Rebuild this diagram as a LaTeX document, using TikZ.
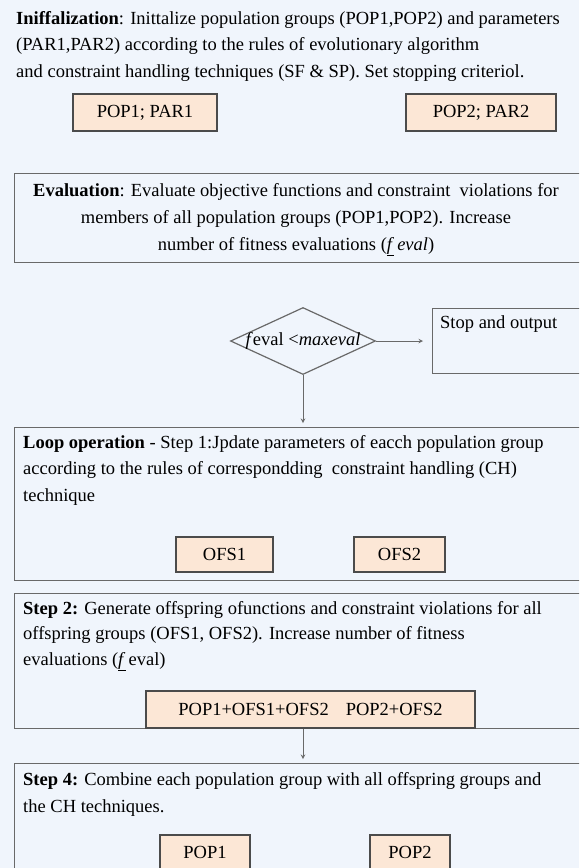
\documentclass[tikz,border=0pt]{standalone}
\usepackage{fontspec}
\setmainfont{Liberation Serif}
\usepackage{xcolor}
\usetikzlibrary{shapes.geometric}
\definecolor{bgblue}{RGB}{240,245,252}
\definecolor{peach}{RGB}{252,231,214}
\definecolor{framegray}{RGB}{105,105,105}
\definecolor{boxgray}{RGB}{75,75,75}
\begin{document}
\begin{tikzpicture}[x=1pt,y=-1pt,>=stealth,
  bigbox/.style={draw=framegray,line width=1.4pt,anchor=north west,inner sep=0pt},
  smallbox/.style={draw=boxgray,line width=1.2pt,fill=peach,inner sep=0pt,font=\fontsize{18.5}{20}\selectfont},
  txt/.style={font=\fontsize{18.5}{26.5}\selectfont,inner sep=0pt,align=left,anchor=north west},
  decision/.style={diamond,draw=framegray,line width=1.2pt,minimum width=145pt,minimum height=67pt,inner sep=0pt},
  flow/.style={->,draw=framegray,line width=1pt}]
  \useasboundingbox (0,0) rectangle (579,868);
  \fill[bgblue] (0,0) rectangle (579,868);
  \clip (0,0) rectangle (579,868);

  % initialization
  \node[txt] (inittxt) at (16,11) {\textbf{Iniffalization}: Inittalize population groups (POP1,POP2) and parameters\\
    (PAR1,PAR2) according to the rules of evolutionary algorithm\\
    and constraint handling techniques (SF \& SP). Set stopping criteriol.};
  \node[smallbox,minimum width=144pt,minimum height=37pt] (pop1par) at (145,112.5) {POP1; PAR1};
  \node[smallbox,minimum width=150pt,minimum height=37pt] (pop2par) at (481,112.5) {POP2; PAR2};

  % evaluation
  \node[bigbox,minimum width=600pt,minimum height=89pt] (evalbox) at (14,173) {};
  \node[txt,align=center,anchor=north,font=\fontsize{18.5}{27}\selectfont] (evaltxt) at (296,183) {\textbf{Evaluation}: Evaluate objective functions and constraint\ \ violations for\\
    members of all population groups (POP1,POP2). Increase\\
    number of fitness evaluations (\underline{\textit{f}}\,\textit{eval})};

  % stopping test
  \node[decision] (dec) at (303,341) {};
  \node[inner sep=0pt,font=\fontsize{18.5}{20}\selectfont] (dectxt) at (dec) {\textit{f}eval <\textit{maxeval}};
  \node[bigbox,minimum width=200pt,minimum height=65pt] (stopbox) at (432,308) {};
  \node[txt] (stoptxt) at (440,315) {Stop and output};
  \draw[flow,shorten >=9pt] (dec.east) -- (dec.east -| stopbox.west);

  % loop operation
  \node[bigbox,minimum width=600pt,minimum height=153pt] (loopbox) at (14,427) {};
  \draw[flow,shorten >=4pt] (dec.south) -- (dec.south |- loopbox.north);
  \node[txt] (looptxt) at (23,435) {\textbf{Loop operation} - Step 1:Jpdate parameters of eacch population group\\
    according to the rules of correspondding\ \ constraint handling (CH)\\
    technique};
  \node[smallbox,minimum width=97pt,minimum height=35pt] (ofs1) at (224.5,554.5) {OFS1};
  \node[smallbox,minimum width=91pt,minimum height=35pt] (ofs2) at (399.5,554.5) {OFS2};

  % step 2
  \node[bigbox,minimum width=600pt,minimum height=135pt] (steptwo) at (14,593) {};
  \node[txt,font=\fontsize{18.5}{25.5}\selectfont] (steptwotxt) at (23,601) {\textbf{Step 2:} Generate offspring ofunctions and constraint violations for all\\
    offspring groups (OFS1, OFS2). Increase number of fitness\\
    evaluations (\underline{\textit{f}}\,eval)};
  \node[smallbox,minimum width=329pt,minimum height=37pt] (combo) at (310.5,709.5) {POP1+OFS1+OFS2\hspace{17pt}POP2+OFS2};

  % step 4
  \node[bigbox,minimum width=600pt,minimum height=200pt] (stepfour) at (14,763) {};
  \draw[flow,shorten >=4pt] (dec.south |- combo.south) -- (dec.south |- stepfour.north);
  \node[txt,font=\fontsize{18.5}{27}\selectfont] (stepfourtxt) at (23,772) {\textbf{Step 4:} Combine each population group with all offspring groups and\\
    the CH techniques.};
  \node[smallbox,minimum width=90pt,minimum height=34pt] (pop1) at (205,852) {POP1};
  \node[smallbox,minimum width=80pt,minimum height=34pt] (pop2) at (410,852) {POP2};
\end{tikzpicture}
\end{document}
